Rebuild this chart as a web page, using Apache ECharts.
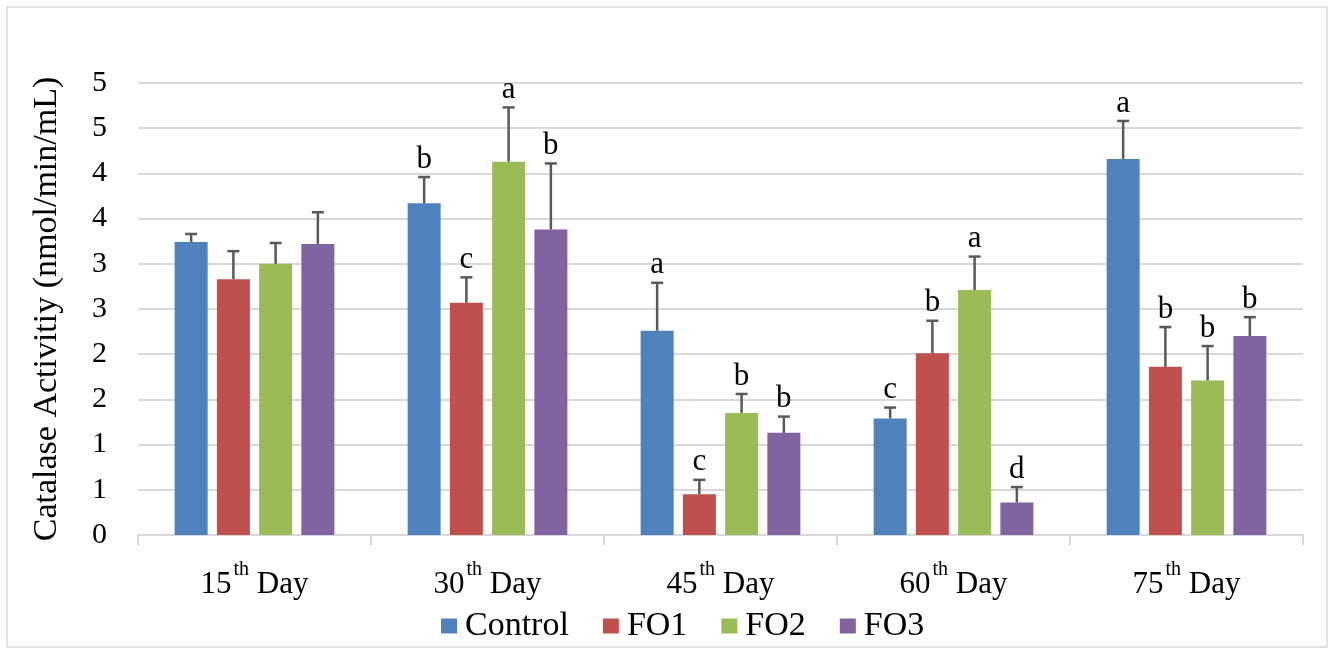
<!DOCTYPE html>
<html>
<head>
<meta charset="utf-8">
<script src="https://cdn.jsdelivr.net/npm/echarts@6/dist/echarts.min.js"></script>
<style>
html,body{margin:0;padding:0;background:#fff;}
#chart{width:1330px;height:652px;}
</style>
</head>
<body>
<div id="chart"></div>
<script>
// ---- data ----
const categories = ['15th Day', '30th Day', '45th Day', '60th Day', '75th Day'];
const seriesNames = ['Control', 'FO1', 'FO2', 'FO3'];
const controlValues = [3.24, 3.67, 2.26, 1.29, 4.16];
const fo1Values     = [2.83, 2.57, 0.45, 2.01, 1.86];
const fo2Values     = [3.00, 4.13, 1.35, 2.71, 1.71];
const fo3Values     = [3.22, 3.38, 1.13, 0.36, 2.20];
// upper end of each error bar
const controlErrTop = [3.33, 3.96, 2.79, 1.41, 4.58];
const fo1ErrTop     = [3.14, 2.85, 0.61, 2.37, 2.30];
const fo2ErrTop     = [3.23, 4.73, 1.56, 3.08, 2.09];
const fo3ErrTop     = [3.57, 4.11, 1.31, 0.53, 2.41];
// significance letters
const controlLetters = ['', 'b', 'a', 'c', 'a'];
const fo1Letters     = ['', 'c', 'c', 'b', 'b'];
const fo2Letters     = ['', 'a', 'b', 'a', 'b'];
const fo3Letters     = ['', 'b', 'b', 'd', 'b'];
const yTickLabels = ['0', '1', '1', '2', '2', '3', '3', '4', '4', '5', '5'];
const yAxisTitle = 'Catalase Activitiy (nmol/min/mL)';

// ---- styling ----
const colors = ['#4F81BD', '#C0504D', '#9BBB59', '#8064A2'];
const FONT = '"Liberation Serif", "Times New Roman", serif';
const BAR_W = 33;
const BAR_GAP_RATIO = 0.28;

const valuesList = [controlValues, fo1Values, fo2Values, fo3Values];
const errList = [controlErrTop, fo1ErrTop, fo2ErrTop, fo3ErrTop];
const lettersList = [controlLetters, fo1Letters, fo2Letters, fo3Letters];

const chart = echarts.init(document.getElementById('chart'));

const barSeries = seriesNames.map((name, i) => ({
  name: name,
  type: 'bar',
  data: valuesList[i],
  barWidth: BAR_W,
  barGap: (BAR_GAP_RATIO * 100) + '%',
  itemStyle: { color: colors[i] },
  z: 2
}));

const step = BAR_W * (1 + BAR_GAP_RATIO);
const offsets = [-1.5 * step, -0.5 * step, 0.5 * step, 1.5 * step];

const errSeries = seriesNames.map((name, i) => ({
  name: name + ' error',
  type: 'custom',
  z: 5,
  silent: true,
  clip: false,
  data: categories.map((c, j) => [j, valuesList[i][j], errList[i][j], lettersList[i][j]]),
  encode: { x: 0, y: [1, 2] },
  renderItem: function (params, api) {
    const idx = api.value(0);
    const base = api.coord([idx, api.value(1)]);
    const top = api.coord([idx, api.value(2)]);
    const x = base[0] + offsets[i];
    const letter = lettersList[i][idx];
    const lineStyle = { stroke: '#595959', lineWidth: 2.5 };
    const children = [
      { type: 'line', shape: { x1: x, y1: base[1], x2: x, y2: top[1] }, style: lineStyle },
      { type: 'line', shape: { x1: x - 6, y1: top[1], x2: x + 6, y2: top[1] }, style: lineStyle }
    ];
    if (letter) {
      children.push({
        type: 'text',
        style: {
          text: letter, x: x, y: top[1] - 2,
          align: 'center', verticalAlign: 'bottom',
          fontSize: 31, fontFamily: FONT, fill: '#000'
        }
      });
    }
    return { type: 'group', children: children };
  }
}));

const option = {
  animation: false,
  backgroundColor: '#fff',
  graphic: [{
    type: 'rect',
    shape: { x: 7, y: 7, width: 1320, height: 640 },
    style: { fill: 'none', stroke: '#d9d9d9', lineWidth: 1.5 },
    silent: true
  }],
  grid: { left: 138, right: 27, top: 83, bottom: 117, containLabel: false },
  legend: {
    data: seriesNames,
    bottom: 4,
    left: 436,
    itemWidth: 16,
    itemHeight: 15,
    itemGap: 34,
    icon: 'rect',
    textStyle: { fontSize: 34, fontFamily: FONT, color: '#000', padding: [0, 0, 0, 3] }
  },
  xAxis: {
    type: 'category',
    data: categories,
    axisLine: { lineStyle: { color: '#d9d9d9', width: 2 } },
    axisTick: { show: true, length: 10, lineStyle: { color: '#d9d9d9', width: 2 } },
    axisLabel: {
      margin: 25,
      formatter: function (v) {
        const m = v.match(/^(\d+)th\s*(.*)$/);
        return '{n|' + m[1] + '}{s|th}{n| ' + m[2] + '}';
      },
      rich: {
        n: { fontSize: 31, fontFamily: FONT, color: '#000', lineHeight: 40, verticalAlign: 'bottom' },
        s: { fontSize: 20, fontFamily: FONT, color: '#000', lineHeight: 40, verticalAlign: 'top', padding: [0, 0, 0, 2] }
      }
    }
  },
  yAxis: {
    type: 'value',
    min: 0,
    max: 5,
    interval: 0.5,
    name: yAxisTitle,
    nameLocation: 'middle',
    nameGap: 74,
    nameTextStyle: { fontSize: 34, fontFamily: FONT, color: '#000' },
    axisLine: { show: false },
    axisTick: { show: false },
    splitLine: { lineStyle: { color: '#d9d9d9', width: 2 } },
    axisLabel: {
      margin: 31,
      fontSize: 30,
      fontFamily: FONT,
      color: '#000',
      formatter: function (v) { return yTickLabels[Math.round(v / 0.5)]; }
    }
  },
  series: barSeries.concat(errSeries)
};

chart.setOption(option);
</script>
</body>
</html>
